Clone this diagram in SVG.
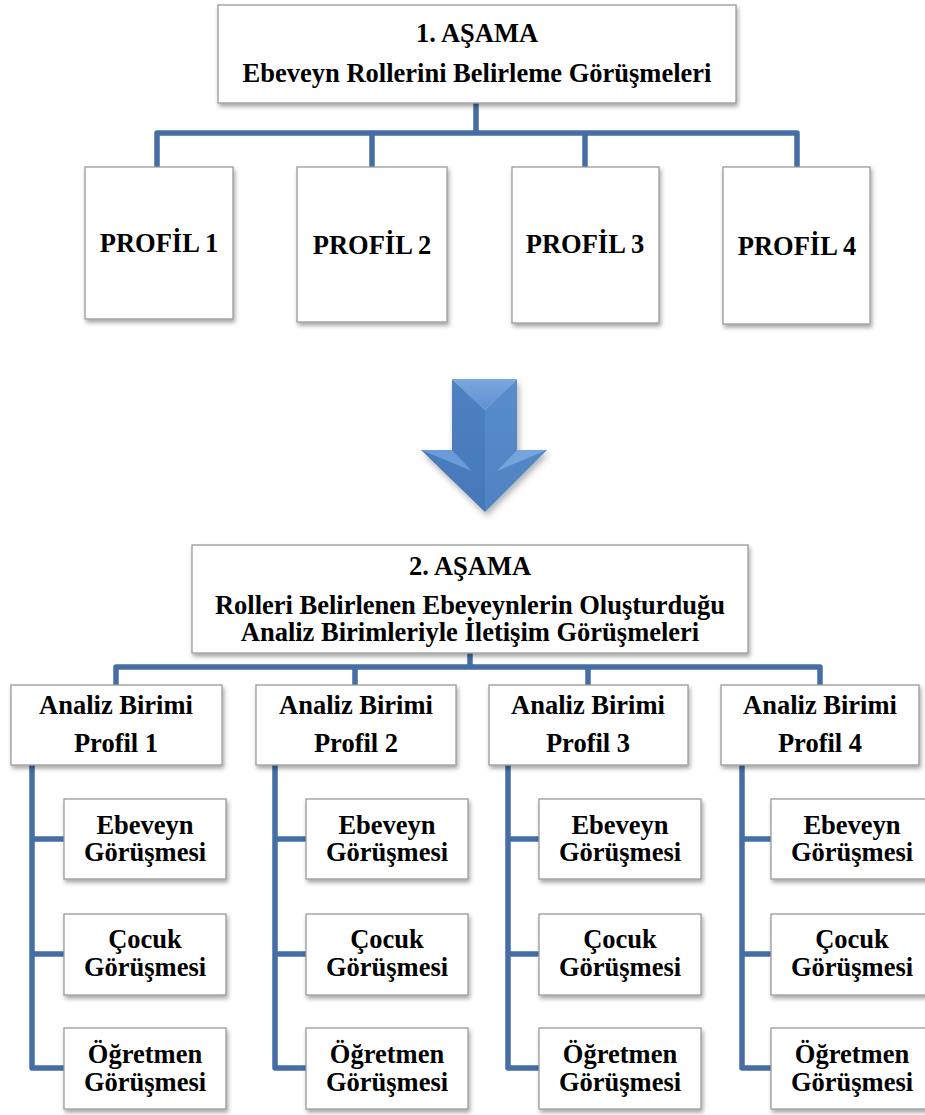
<svg xmlns="http://www.w3.org/2000/svg" width="925" height="1115" viewBox="0 0 925 1115">
<defs>
<filter id="sh" x="-10%" y="-10%" width="125%" height="130%">
<feDropShadow dx="1.5" dy="3" stdDeviation="2" flood-color="#000" flood-opacity="0.35"/>
</filter>
<filter id="ash" x="-20%" y="-20%" width="140%" height="150%">
<feDropShadow dx="2" dy="4" stdDeviation="3" flood-color="#000" flood-opacity="0.3"/>
</filter>
<linearGradient id="gtop" x1="0" y1="0" x2="0" y2="1">
<stop offset="0" stop-color="#7aa7de"/><stop offset="1" stop-color="#5f90cf"/>
</linearGradient>
<linearGradient id="gl" x1="0" y1="0" x2="0" y2="1">
<stop offset="0" stop-color="#4f82c3"/><stop offset="1" stop-color="#4677b8"/>
</linearGradient>
<linearGradient id="gr" x1="0" y1="0" x2="0" y2="1">
<stop offset="0" stop-color="#5a8dcc"/><stop offset="1" stop-color="#4f82c2"/>
</linearGradient>
</defs>
<style>
.box{fill:#fff;stroke:#9a9a9a;stroke-width:1.3;filter:url(#sh)}
.t{font-family:"Liberation Serif","Times New Roman",serif;font-weight:bold;font-size:26.5px;fill:#000;text-anchor:middle}
.c{fill:none;stroke:#456ea4;stroke-width:5.5;stroke-linejoin:round;stroke-linecap:butt}
</style>

<g id="connectors">
<path class="c" d="M476 103 V133 M157 167 V133 H797 V167 M372 133 V167 M585 133 V167"/>
<path class="c" d="M470 653 V667 M116 685 V667 H820 V685 M355 667 V685 M588 667 V685"/>
<path class="c" d="M32 765 V1068 H64 M32 839 H64 M32 954 H64"/>
<path class="c" d="M275 765 V1068 H306 M275 839 H306 M275 954 H306"/>
<path class="c" d="M508 765 V1068 H539 M508 839 H539 M508 954 H539"/>
<path class="c" d="M742 765 V1068 H771 M742 839 H771 M742 954 H771"/>
</g>

<g id="stage1">
<rect class="box" x="218" y="5" width="518" height="98"/>
<text class="t" x="477" y="42">1. AŞAMA</text>
<text class="t" x="477" y="82">Ebeveyn Rollerini Belirleme Görüşmeleri</text>
</g>

<g id="profil1"><rect class="box" x="85" y="167" width="148" height="152"/><text class="t" x="159" y="252">PROFİL 1</text></g>
<g id="profil2"><rect class="box" x="297" y="167" width="150" height="155"/><text class="t" x="372" y="254">PROFİL 2</text></g>
<g id="profil3"><rect class="box" x="512" y="167" width="147" height="156"/><text class="t" x="585" y="253">PROFİL 3</text></g>
<g id="profil4"><rect class="box" x="723" y="167" width="147" height="157"/><text class="t" x="797" y="255">PROFİL 4</text></g>

<g id="arrow" filter="url(#ash)">
<polygon points="452,379 485,410 485,512 421,450 452,450" fill="url(#gl)"/>
<polygon points="517,379 485,410 485,512 547,450 517,450" fill="url(#gr)"/>
<polygon points="452,379 517,379 485,410" fill="url(#gtop)"/>
<polygon points="421,450 452,450 472,471" fill="#6a9ad7"/>
<polygon points="547,450 517,450 497,471" fill="#76a4dd"/>
</g>

<g id="stage2">
<rect class="box" x="192" y="545" width="556" height="108"/>
<text class="t" x="470" y="575">2. AŞAMA</text>
<text class="t" x="470" y="614">Rolleri Belirlenen Ebeveynlerin Oluşturduğu</text>
<text class="t" x="470" y="641">Analiz Birimleriyle İletişim Görüşmeleri</text>
</g>

<g id="analiz1"><rect class="box" x="11" y="685" width="211" height="80"/><text class="t" x="116" y="714">Analiz Birimi</text><text class="t" x="116" y="752">Profil 1</text></g>
<g id="analiz2"><rect class="box" x="256" y="685" width="200" height="80"/><text class="t" x="356" y="714">Analiz Birimi</text><text class="t" x="356" y="752">Profil 2</text></g>
<g id="analiz3"><rect class="box" x="489" y="685" width="199" height="80"/><text class="t" x="588" y="714">Analiz Birimi</text><text class="t" x="588" y="752">Profil 3</text></g>
<g id="analiz4"><rect class="box" x="721" y="685" width="198" height="80"/><text class="t" x="820" y="714">Analiz Birimi</text><text class="t" x="820" y="752">Profil 4</text></g>

<g id="c1e"><rect class="box" x="64" y="799" width="162" height="80"/><text class="t" x="145" y="834">Ebeveyn</text><text class="t" x="145" y="861">Görüşmesi</text></g>
<g id="c1c"><rect class="box" x="64" y="914" width="162" height="81"/><text class="t" x="145" y="948">Çocuk</text><text class="t" x="145" y="976">Görüşmesi</text></g>
<g id="c1o"><rect class="box" x="64" y="1028" width="162" height="81"/><text class="t" x="145" y="1063">Öğretmen</text><text class="t" x="145" y="1091">Görüşmesi</text></g>

<g id="c2e"><rect class="box" x="306" y="799" width="162" height="80"/><text class="t" x="387" y="834">Ebeveyn</text><text class="t" x="387" y="861">Görüşmesi</text></g>
<g id="c2c"><rect class="box" x="306" y="914" width="162" height="81"/><text class="t" x="387" y="948">Çocuk</text><text class="t" x="387" y="976">Görüşmesi</text></g>
<g id="c2o"><rect class="box" x="306" y="1028" width="162" height="81"/><text class="t" x="387" y="1063">Öğretmen</text><text class="t" x="387" y="1091">Görüşmesi</text></g>

<g id="c3e"><rect class="box" x="539" y="799" width="162" height="80"/><text class="t" x="620" y="834">Ebeveyn</text><text class="t" x="620" y="861">Görüşmesi</text></g>
<g id="c3c"><rect class="box" x="539" y="914" width="162" height="81"/><text class="t" x="620" y="948">Çocuk</text><text class="t" x="620" y="976">Görüşmesi</text></g>
<g id="c3o"><rect class="box" x="539" y="1028" width="162" height="81"/><text class="t" x="620" y="1063">Öğretmen</text><text class="t" x="620" y="1091">Görüşmesi</text></g>

<g id="c4e"><rect class="box" x="771" y="799" width="162" height="80"/><text class="t" x="852" y="834">Ebeveyn</text><text class="t" x="852" y="861">Görüşmesi</text></g>
<g id="c4c"><rect class="box" x="771" y="914" width="162" height="81"/><text class="t" x="852" y="948">Çocuk</text><text class="t" x="852" y="976">Görüşmesi</text></g>
<g id="c4o"><rect class="box" x="771" y="1028" width="162" height="81"/><text class="t" x="852" y="1063">Öğretmen</text><text class="t" x="852" y="1091">Görüşmesi</text></g>
</svg>
